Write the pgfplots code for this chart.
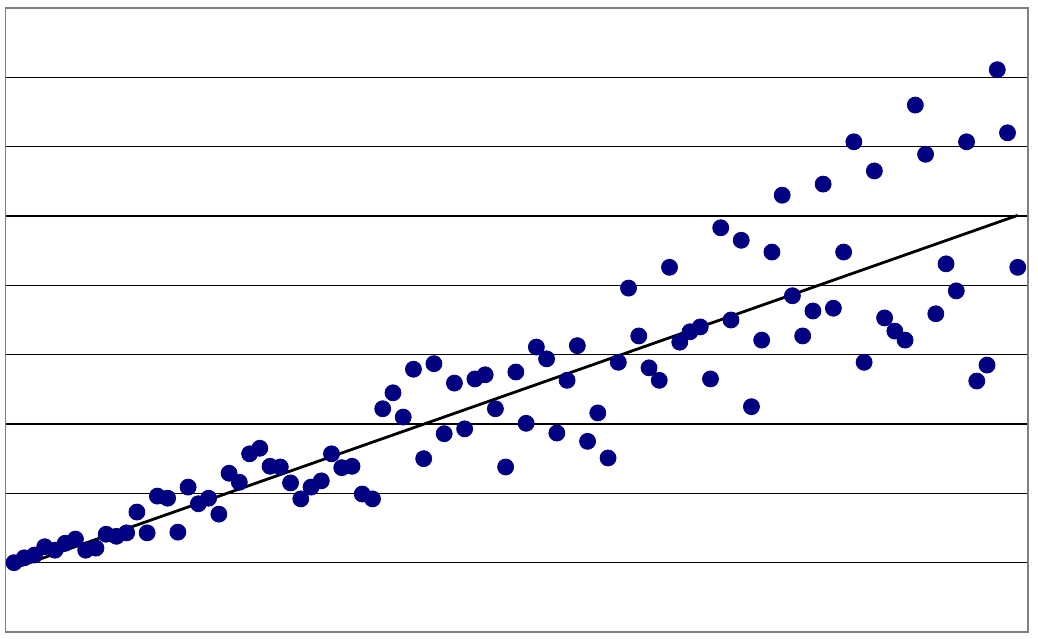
\documentclass[border=0pt]{standalone}
\usepackage{pgfplots}
\pgfplotsset{compat=1.18}
\definecolor{dotblue}{RGB}{0,0,128}
\definecolor{framegray}{RGB}{128,128,128}

\pgfplotstableread{
x y
1 1.00
2 1.07
3 1.11
4 1.23
5 1.18
6 1.28
7 1.34
8 1.18
9 1.21
10 1.41
11 1.38
12 1.43
13 1.73
14 1.43
15 1.96
16 1.93
17 1.44
18 2.09
19 1.85
20 1.93
21 1.70
22 2.29
23 2.16
24 2.57
25 2.65
26 2.39
27 2.38
28 2.15
29 1.92
30 2.09
31 2.18
32 2.57
33 2.37
34 2.39
35 1.99
36 1.92
37 3.22
38 3.45
39 3.10
40 3.79
41 2.50
42 3.87
43 2.86
44 3.59
45 2.93
46 3.65
47 3.71
48 3.22
49 2.38
50 3.75
51 3.01
52 4.11
53 3.94
54 2.87
55 3.63
56 4.13
57 2.75
58 3.16
59 2.51
60 3.89
61 4.96
62 4.27
63 3.81
64 3.63
65 5.26
66 4.18
67 4.33
68 4.40
69 3.65
70 5.83
71 4.50
72 5.65
73 3.25
74 4.21
75 5.48
76 6.30
77 4.85
78 4.27
79 4.63
80 6.46
81 4.67
82 5.48
83 7.07
84 3.89
85 6.65
86 4.53
87 4.34
88 4.21
89 7.60
90 6.89
91 4.59
92 5.31
93 4.92
94 7.07
95 3.62
96 3.85
97 8.11
98 7.20
99 5.26
}\scatterdata

\begin{document}
\begin{tikzpicture}
	\begin{axis}[
	scale only axis,
	width=511.25pt,
	height=312pt,
	xmin=0.17, xmax=100,
	ymin=0, ymax=9,
	xtick=\empty,
	ytick={1,2,3,4,5,6,7,8},
	yticklabels={},
	major tick length=0pt,
	ymajorgrids,
	major grid style={black, line width=0.55pt},
	axis line style={framegray, line width=0.6pt},
	clip=false
	]
	\addplot[only marks, mark=*, mark size=4pt,
		mark options={fill=dotblue, draw=dotblue}] table[x=x, y=y] {\scatterdata};
	\addplot[black, line width=1.4pt] coordinates {(1,0.92) (99,6.01)};
	\end{axis}
	\pgfresetboundingbox
	\path ([shift={(-2.75pt,-3pt)}]current axis.south west)
	      ([shift={(5pt,4pt)}]current axis.north east);
\end{tikzpicture}
\end{document}
